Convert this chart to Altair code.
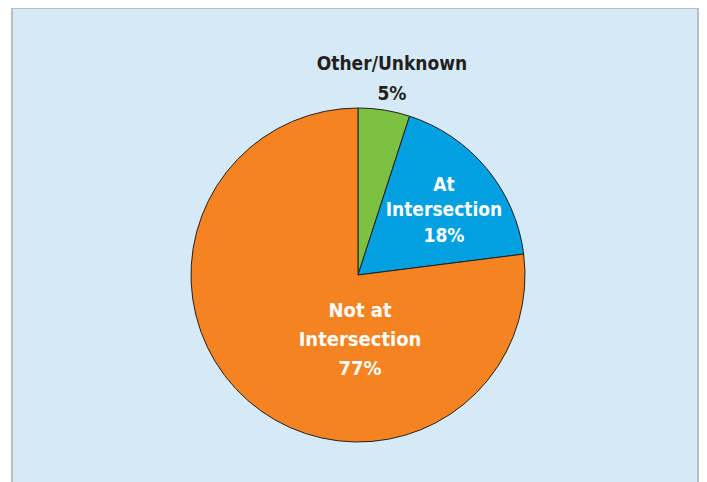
import altair as alt
import pandas as pd

categories = ["Other/Unknown", "At Intersection", "Not at Intersection"]
values = [5, 18, 77]
labels = ["Other/Unknown\n5%", "At\nIntersection\n18%", "Not at\nIntersection\n77%"]
colors = ["#7cc142", "#00a0e1", "#f58321"]
text_colors = ["#231f20", "#ffffff", "#ffffff"]

df = pd.DataFrame({
    "category": categories,
    "value": values,
    "label": labels,
    "order": list(range(len(categories))),
})

W, H = 691, 474
CX, CY, R = 350, 267, 167
FONT = "Liberation Sans Narrow, DejaVu Sans Condensed, Arial Narrow, sans-serif"
TOTAL = sum(values)

panel = alt.Chart(pd.DataFrame({"a": [0]})).mark_rect(
    fill="#d6e9f7", stroke="#bdbdbd", strokeWidth=2
).encode(
    x=alt.value(4), x2=alt.value(690), y=alt.value(0), y2=alt.value(490)
)

pie = alt.Chart(df).mark_arc(radius=R, stroke="#231f20", strokeWidth=1).encode(
    theta=alt.Theta("value:Q", stack=True, scale=alt.Scale(domain=[0, TOTAL])),
    order=alt.Order("order:Q"),
    color=alt.Color("category:N", scale=alt.Scale(domain=categories, range=colors), legend=None),
    x=alt.value(CX), y=alt.value(CY),
)

text_base = alt.Chart(df).transform_window(
    cum="sum(value)", sort=[alt.SortField("order")]
).transform_calculate(
    mid="datum.cum - datum.value / 2"
)

def label_layer(cat, radius, theta_offset, color, size, line_h, n_lines):
    return text_base.transform_filter(alt.datum.category == cat).mark_text(
        radius=radius, thetaOffset=theta_offset, font=FONT, fontSize=size,
        fontWeight="bold", lineBreak="\n", lineHeight=line_h, align="center",
        baseline="middle", color=color, dy=-(n_lines - 1) / 2 * line_h,
    ).encode(
        theta=alt.Theta("mid:Q", stack=None, scale=alt.Scale(domain=[0, TOTAL])),
        text="label:N", x=alt.value(CX), y=alt.value(CY),
    )

txt_other = label_layer(categories[0], 199.4, 0.014, text_colors[0], 19, 30, 2)
txt_at = label_layer(categories[1], 107.5, 0.047, text_colors[1], 19, 25.5, 3)
txt_not = label_layer(categories[2], 65, -0.754, text_colors[2], 20, 29, 3)

chart = alt.layer(panel, pie, txt_other, txt_at, txt_not).properties(
    width=W, height=H, padding=0,
    autosize=alt.AutoSizeParams(type="none"),
    background="#ffffff",
).configure_view(stroke=None)

chart.save("out.html", embed_options={"renderer": "svg", "actions": False})
